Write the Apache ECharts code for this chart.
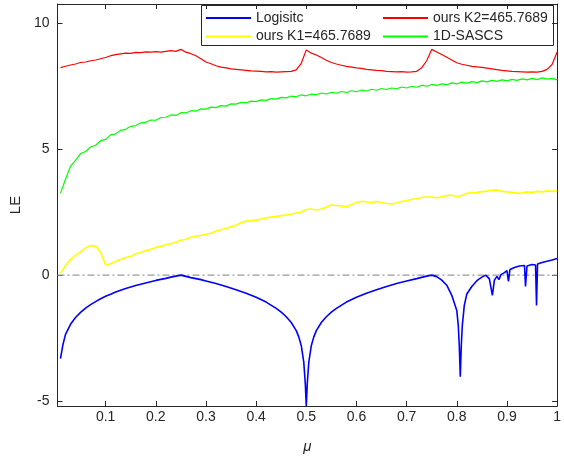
<!DOCTYPE html>
<html>
<head>
<meta charset="utf-8">
<script src="https://cdn.jsdelivr.net/npm/echarts@6/dist/echarts.min.js"></script>
<style>
  html, body { margin: 0; padding: 0; background: #fff; }
  #le_chart { width: 564px; height: 459px; }
</style>
</head>
<body>
<div id="le_chart"></div>
<script>
// 横轴 mu
var mu = [
  0.01, 0.02, 0.03, 0.04, 0.05, 0.06, 0.07, 0.08, 0.09, 0.10,
  0.11, 0.12, 0.13, 0.14, 0.15, 0.16, 0.17, 0.18, 0.19, 0.20,
  0.21, 0.22, 0.23, 0.24, 0.25, 0.26, 0.27, 0.28, 0.29, 0.30,
  0.31, 0.32, 0.33, 0.34, 0.35, 0.36, 0.37, 0.38, 0.39, 0.40,
  0.41, 0.42, 0.43, 0.44, 0.45, 0.46, 0.47, 0.48, 0.49, 0.50,
  0.51, 0.52, 0.53, 0.54, 0.55, 0.56, 0.57, 0.58, 0.59, 0.60,
  0.61, 0.62, 0.63, 0.64, 0.65, 0.66, 0.67, 0.68, 0.69, 0.70,
  0.71, 0.72, 0.73, 0.74, 0.75, 0.76, 0.77, 0.78, 0.79, 0.80,
  0.81, 0.82, 0.83, 0.84, 0.85, 0.86, 0.87, 0.88, 0.89, 0.90,
  0.91, 0.92, 0.93, 0.94, 0.95, 0.96, 0.97, 0.98, 0.99, 1.00
]

// ours K2
var leK2 = [
  8.23, 8.28, 8.33, 8.37, 8.43, 8.45, 8.50, 8.53, 8.58, 8.63,
  8.70, 8.74, 8.77, 8.80, 8.79, 8.83, 8.82, 8.85, 8.84, 8.86,
  8.84, 8.87, 8.90, 8.87, 8.95, 8.84, 8.78, 8.70, 8.58, 8.45,
  8.38, 8.30, 8.25, 8.22, 8.18, 8.16, 8.14, 8.12, 8.10, 8.09,
  8.08, 8.06, 8.07, 8.05, 8.06, 8.07, 8.08, 8.14, 8.40, 8.93,
  8.80, 8.73, 8.63, 8.52, 8.43, 8.37, 8.32, 8.28, 8.25, 8.22,
  8.20, 8.16, 8.14, 8.12, 8.11, 8.08, 8.07, 8.06, 8.07, 8.05,
  8.06, 8.08, 8.22, 8.50, 8.95, 8.85, 8.75, 8.64, 8.53, 8.42,
  8.36, 8.32, 8.28, 8.26, 8.24, 8.21, 8.18, 8.15, 8.12, 8.10,
  8.08, 8.07, 8.06, 8.05, 8.06, 8.05, 8.08, 8.16, 8.35, 8.85
]

// ours K1
var leK1 = [
  0.07, 0.38, 0.62, 0.78, 0.92, 1.08, 1.17, 1.15, 0.90, 0.40,
  0.45, 0.55, 0.62, 0.70, 0.74, 0.85, 0.90, 0.98, 1.02, 1.10,
  1.14, 1.20, 1.24, 1.30, 1.38, 1.42, 1.50, 1.54, 1.58, 1.62,
  1.66, 1.75, 1.80, 1.86, 1.92, 1.98, 2.08, 2.14, 2.16, 2.18,
  2.22, 2.27, 2.30, 2.33, 2.36, 2.38, 2.42, 2.46, 2.50, 2.60,
  2.62, 2.58, 2.62, 2.70, 2.78, 2.76, 2.74, 2.70, 2.80, 2.88,
  2.93, 2.90, 2.88, 2.92, 2.88, 2.84, 2.82, 2.86, 2.92, 2.96,
  3.00, 3.04, 3.08, 3.10, 3.10, 3.06, 3.12, 3.15, 3.17, 3.12,
  3.16, 3.24, 3.27, 3.28, 3.31, 3.33, 3.36, 3.38, 3.32, 3.30,
  3.28, 3.24, 3.26, 3.30, 3.28, 3.32, 3.30, 3.34, 3.32, 3.35
]

// 1D-SASCS
var leSascs = [
  3.24, 3.80, 4.32, 4.55, 4.82, 4.90, 5.08, 5.15, 5.33, 5.38,
  5.56, 5.60, 5.74, 5.78, 5.90, 5.93, 6.04, 6.06, 6.15, 6.14,
  6.25, 6.26, 6.35, 6.33, 6.44, 6.43, 6.52, 6.50, 6.59, 6.58,
  6.66, 6.64, 6.72, 6.70, 6.79, 6.78, 6.85, 6.83, 6.90, 6.88,
  6.95, 6.93, 7.00, 6.98, 7.05, 7.03, 7.10, 7.07, 7.15, 7.11,
  7.18, 7.15, 7.22, 7.18, 7.25, 7.21, 7.28, 7.24, 7.31, 7.27,
  7.34, 7.30, 7.37, 7.33, 7.40, 7.36, 7.42, 7.39, 7.46, 7.42,
  7.49, 7.45, 7.53, 7.49, 7.56, 7.52, 7.58, 7.55, 7.62, 7.58,
  7.65, 7.61, 7.67, 7.63, 7.70, 7.66, 7.72, 7.68, 7.74, 7.70,
  7.76, 7.72, 7.78, 7.74, 7.80, 7.75, 7.82, 7.77, 7.80, 7.74
]

// Logistic 用自己的横坐标(尖峰附近加密)
var logisticMu = [
  0.01, 0.015, 0.02, 0.03, 0.04, 0.05, 0.06, 0.07, 0.08, 0.09,
  0.10, 0.11, 0.12, 0.13, 0.14, 0.15, 0.16, 0.17, 0.18, 0.19,
  0.20, 0.21, 0.22, 0.23, 0.24, 0.25, 0.26, 0.27, 0.28, 0.29,
  0.30, 0.32, 0.34, 0.36, 0.38, 0.40, 0.42, 0.44, 0.45, 0.46,
  0.47, 0.48, 0.485, 0.49, 0.495, 0.498, 0.50, 0.502, 0.505, 0.51,
  0.515, 0.52, 0.53, 0.54, 0.55, 0.56, 0.58, 0.60, 0.62, 0.64,
  0.66, 0.68, 0.70, 0.72, 0.74, 0.75, 0.76, 0.77, 0.78, 0.79,
  0.80, 0.803, 0.805, 0.807, 0.809, 0.811, 0.815, 0.82, 0.83, 0.84,
  0.85, 0.858, 0.865, 0.871, 0.875, 0.88, 0.884, 0.888, 0.895, 0.90,
  0.903, 0.906, 0.915, 0.925, 0.935, 0.937, 0.94, 0.95, 0.957, 0.959,
  0.961, 0.97, 0.98, 0.99, 1.00
]
var logisticLE = [
  -3.31, -2.75, -2.35, -1.95, -1.68, -1.48, -1.31, -1.17, -1.05, -0.94,
  -0.84, -0.76, -0.67, -0.60, -0.53, -0.47, -0.41, -0.36, -0.31, -0.26,
  -0.21, -0.17, -0.13, -0.08, -0.04, 0.00, -0.05, -0.10, -0.14, -0.18,
  -0.23, -0.33, -0.45, -0.58, -0.72, -0.88, -1.07, -1.32, -1.47, -1.65,
  -1.88, -2.20, -2.45, -2.80, -3.45, -4.30, -5.19, -4.30, -3.45, -2.80,
  -2.45, -2.20, -1.88, -1.65, -1.47, -1.32, -1.07, -0.88, -0.72, -0.58,
  -0.45, -0.33, -0.23, -0.14, -0.04, 0.00, -0.06, -0.20, -0.40, -0.80,
  -1.40, -2.00, -2.80, -4.03, -2.80, -2.00, -1.20, -0.75, -0.45, -0.22,
  -0.08, 0.00, -0.15, -0.80, -0.20, -0.05, -0.18, 0.02, 0.10, 0.18,
  -0.25, 0.22, 0.30, 0.36, 0.38, -0.45, 0.36, 0.42, 0.40, -1.20,
  0.44, 0.50, 0.55, 0.60, 0.66
]

var xTicks = [0.1, 0.2, 0.3, 0.4, 0.5, 0.6, 0.7, 0.8, 0.9, 1]
var yTicks = [-5, 0, 5, 10]
var zeroLine = [[0.004, 0], [1, 0]]

function pairs(xs, ys) {
  return xs.map(function (x, i) { return [x, ys[i]] })
}

var font = 'Liberation Sans, Arial, sans-serif'
var ink = '#262626'

var le_chart = echarts.init(document.getElementById('le_chart'))
var le_option = {
  animation: false,
  backgroundColor: '#fff',
  grid: { left: 50, right: 4, top: 4, bottom: 53 },
  legend: [
    {
      orient: 'vertical',
      left: 206,
      top: 10,
      padding: 0,
      itemWidth: 45,
      itemHeight: 2,
      itemGap: 2.4,
      icon: 'rect',
      textStyle: { fontFamily: font, fontSize: 14, color: ink, lineHeight: 16 },
      data: ['Logisitc', 'ours K1=465.7689'],
    },
    {
      orient: 'vertical',
      left: 383,
      top: 10,
      padding: 0,
      itemWidth: 45,
      itemHeight: 2,
      itemGap: 2.4,
      icon: 'rect',
      textStyle: { fontFamily: font, fontSize: 14, color: ink, lineHeight: 16 },
      data: ['ours K2=465.7689', '1D-SASCS'],
    },
  ],
  graphic: [
    {
      type: 'rect',
      shape: { x: 201.5, y: 5.5, width: 352, height: 40 },
      style: { fill: 'none', stroke: ink, lineWidth: 1 },
    },
  ],
  xAxis: [
    {
      type: 'value',
      min: 0.004,
      max: 1,
      name: 'μ',
      nameLocation: 'middle',
      nameGap: 33,
      nameTextStyle: { fontFamily: font, fontSize: 15, fontStyle: 'italic', color: ink },
      axisLine: { onZero: false, lineStyle: { color: ink, width: 1 } },
      axisTick: { inside: true, length: 5, customValues: xTicks, lineStyle: { color: ink } },
      axisLabel: { customValues: xTicks, margin: 4, fontFamily: font, fontSize: 14, color: ink },
      splitLine: { show: false },
    },
    {
      type: 'value',
      position: 'top',
      min: 0.004,
      max: 1,
      axisLine: { show: true, onZero: false, lineStyle: { color: ink, width: 1 } },
      axisTick: { show: true, inside: true, length: 5, customValues: xTicks, lineStyle: { color: ink } },
      axisLabel: { show: false },
      splitLine: { show: false },
    },
  ],
  yAxis: [
    {
      type: 'value',
      min: -5.19,
      max: 10.75,
      name: 'LE',
      nameLocation: 'middle',
      nameGap: 33,
      nameTextStyle: { fontFamily: font, fontSize: 15, color: ink },
      axisLine: { show: true, onZero: false, lineStyle: { color: ink, width: 1 } },
      axisTick: { show: true, inside: true, length: 5, customValues: yTicks, lineStyle: { color: ink } },
      axisLabel: { customValues: yTicks, margin: 8, fontFamily: font, fontSize: 14, color: ink },
      splitLine: { show: false },
    },
    {
      type: 'value',
      position: 'right',
      min: -5.19,
      max: 10.75,
      axisLine: { show: true, onZero: false, lineStyle: { color: ink, width: 1 } },
      axisTick: { show: true, inside: true, length: 5, customValues: yTicks, lineStyle: { color: ink } },
      axisLabel: { show: false },
      splitLine: { show: false },
    },
  ],
  series: [
    {
      name: 'zero',
      type: 'line',
      data: zeroLine,
      symbol: 'none',
      silent: true,
      lineStyle: { color: '#999', width: 1.2, type: [7, 3, 2, 3] },
      z: 1,
    },
    {
      name: 'Logisitc',
      type: 'line',
      data: pairs(logisticMu, logisticLE),
      symbol: 'none',
      itemStyle: { color: '#0000ff' },
      lineStyle: { color: '#0000ff', width: 1.6 },
    },
    {
      name: 'ours K2=465.7689',
      type: 'line',
      data: pairs(mu, leK2),
      symbol: 'none',
      itemStyle: { color: '#ff0000' },
      lineStyle: { color: '#ff0000', width: 1.2 },
    },
    {
      name: 'ours K1=465.7689',
      type: 'line',
      data: pairs(mu, leK1),
      symbol: 'none',
      itemStyle: { color: '#ffff00' },
      lineStyle: { color: '#ffff00', width: 1.6 },
    },
    {
      name: '1D-SASCS',
      type: 'line',
      data: pairs(mu, leSascs),
      symbol: 'none',
      itemStyle: { color: '#00ff00' },
      lineStyle: { color: '#00ff00', width: 1.2 },
    },
  ],
}
le_chart.setOption(le_option)
</script>
</body>
</html>
